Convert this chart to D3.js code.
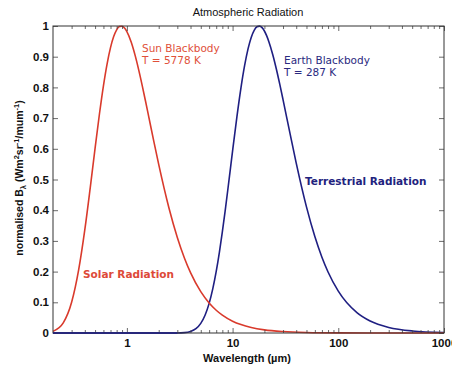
<!DOCTYPE html>
<html>
<head>
<meta charset="utf-8">
<script src="https://cdn.jsdelivr.net/npm/d3@7"></script>
<style>
  html, body { margin: 0; padding: 0; background: #fff; }
  svg { display: block; }
  .tick text { font-family: "Liberation Sans", Arial, Helvetica, sans-serif; font-weight: bold; font-size: 11.5px; fill: #111; }
</style>
</head>
<body>
<svg id="chart" width="452" height="366"></svg>
<script>
// Normalised blackbody spectra (peak = 1) against wavelength in micrometres
const sunWavelength = [0.2, 0.25, 0.3, 0.35, 0.4, 0.45, 0.5, 0.55, 0.6, 0.65, 0.7, 0.75, 0.8, 0.85, 0.9, 0.95,
  1.0, 1.1, 1.2, 1.3, 1.4, 1.5, 1.6, 1.8, 2, 2.5, 3, 3.5, 4, 5, 6, 7, 8, 10, 12, 15, 20, 30, 50, 100, 200, 1000];
const sunValue = [0.0053, 0.0328, 0.0999, 0.2062, 0.3365, 0.4729, 0.6013, 0.7133, 0.8053, 0.8769, 0.9296, 0.9655, 0.9876, 0.9981, 0.9994, 0.9935,
  0.9819, 0.9470, 0.9026, 0.8540, 0.8044, 0.7556, 0.7089, 0.6233, 0.5490, 0.4072, 0.3111, 0.2443, 0.1965, 0.1346, 0.0978, 0.0741, 0.0581, 0.0384, 0.0273, 0.0178, 0.0102, 0.0047, 0.0017, 0.0004, 0.0001, 0];

const earthWavelength = [0.2, 3, 3.5, 4, 4.5, 5, 5.5, 6, 6.5, 7, 7.5, 8, 8.5, 9, 9.5, 10, 11, 12, 13, 14, 15, 16, 17, 18, 19, 20,
  22, 24, 26, 28, 30, 35, 40, 50, 60, 70, 80, 100, 150, 200, 300, 500, 1000];
const earthValue = [0, 0.0002, 0.0012, 0.0050, 0.0141, 0.0314, 0.0586, 0.0965, 0.1444, 0.2006, 0.2630, 0.3293, 0.3973, 0.4650, 0.5308, 0.5934, 0.7059, 0.7988, 0.8716, 0.9255, 0.9628, 0.9859, 0.9974, 0.9996, 0.9946, 0.9837,
  0.9498, 0.9063, 0.8582, 0.8088, 0.7604, 0.6484, 0.5536, 0.4109, 0.3142, 0.2469, 0.1987, 0.1362, 0.0662, 0.0389, 0.0181, 0.0067, 0.0017];

const xMajorTicks = [1, 10, 100, 1000];
const xMinorTicks = [0.3, 0.4, 0.5, 0.6, 0.7, 0.8, 0.9, 2, 3, 4, 5, 6, 7, 8, 9, 20, 30, 40, 50, 60, 70, 80, 90, 200, 300, 400, 500, 600, 700, 800, 900];
const yTicks = [0, 0.1, 0.2, 0.3, 0.4, 0.5, 0.6, 0.7, 0.8, 0.9, 1];

const sunColor = "#d93a2c";
const earthColor = "#1f1f82";

const svg = d3.select("#chart");
const plotLeft = 53, plotRight = 444, plotTop = 26, plotBottom = 333;

const x = d3.scaleLog().domain([0.2, 1000]).range([plotLeft, plotRight]);
const y = d3.scaleLinear().domain([0, 1]).range([plotBottom, plotTop]);

// Curves
const line = d3.line().x(d => x(d[0])).y(d => y(d[1])).curve(d3.curveMonotoneX);

svg.append("path")
  .datum(earthWavelength.map((w, i) => [w, earthValue[i]]))
  .attr("d", line).attr("fill", "none")
  .attr("stroke", earthColor).attr("stroke-width", 1.6);

svg.append("path")
  .datum(sunWavelength.map((w, i) => [w, sunValue[i]]))
  .attr("d", line).attr("fill", "none")
  .attr("stroke", sunColor).attr("stroke-width", 1.6);

// Axes with inward ticks on all four sides
const fmtY = d => d === 0 ? "0" : d === 1 ? "1" : d3.format(".1f")(d);

svg.append("g").attr("transform", `translate(0,${plotBottom})`)
  .call(d3.axisBottom(x).tickValues(xMajorTicks).tickFormat(d3.format("d")).tickSizeInner(-5).tickSizeOuter(0).tickPadding(6));
svg.append("g").attr("transform", `translate(0,${plotBottom})`)
  .call(d3.axisBottom(x).tickValues(xMinorTicks).tickFormat("").tickSizeInner(-3).tickSizeOuter(0));
svg.append("g").attr("transform", `translate(0,${plotTop})`)
  .call(d3.axisTop(x).tickValues(xMajorTicks).tickFormat("").tickSizeInner(-5).tickSizeOuter(0));
svg.append("g").attr("transform", `translate(0,${plotTop})`)
  .call(d3.axisTop(x).tickValues(xMinorTicks).tickFormat("").tickSizeInner(-3).tickSizeOuter(0));

svg.append("g").attr("transform", `translate(${plotLeft},0)`)
  .call(d3.axisLeft(y).tickValues(yTicks).tickFormat(fmtY).tickSizeInner(-5).tickSizeOuter(0).tickPadding(4));
svg.append("g").attr("transform", `translate(${plotRight},0)`)
  .call(d3.axisRight(y).tickValues(yTicks).tickFormat("").tickSizeInner(-5).tickSizeOuter(0));

svg.selectAll(".domain").remove();
svg.selectAll(".tick line").attr("stroke", "#444").attr("stroke-width", 0.8);

// Frame
svg.append("rect")
  .attr("x", plotLeft).attr("y", plotTop).attr("width", plotRight - plotLeft).attr("height", plotBottom - plotTop)
  .attr("fill", "none").attr("stroke", "#333").attr("stroke-width", 1);

// Redraw the earth curve's zero run over the bottom frame line
svg.append("line")
  .attr("x1", x(0.2)).attr("x2", x(3)).attr("y1", y(0)).attr("y2", y(0))
  .attr("stroke", earthColor).attr("stroke-width", 1.4);

// Title and axis labels
svg.append("text").attr("x", 248).attr("y", 16).attr("text-anchor", "middle")
  .style("font-family", "'Liberation Sans', Arial, sans-serif").style("font-size", "11px")
  .style("fill", "#111").text("Atmospheric Radiation");

svg.append("text").attr("x", 247).attr("y", 362).attr("text-anchor", "middle")
  .style("font-family", "'Liberation Sans', Arial, sans-serif").style("font-size", "11px")
  .style("font-weight", "bold").style("fill", "#111").text("Wavelength (\u00b5m)");

const yl = svg.append("text").attr("transform", "translate(23,178) rotate(-90)")
  .attr("text-anchor", "middle")
  .style("font-family", "'Liberation Sans', Arial, sans-serif").style("font-size", "10.5px")
  .style("font-weight", "bold").style("fill", "#111");
yl.append("tspan").text("normalised B");
yl.append("tspan").attr("dy", 3).style("font-size", "7.5px").text("\u03bb");
yl.append("tspan").attr("dy", -3).text(" (Wm");
yl.append("tspan").attr("dy", -4).style("font-size", "7.5px").text("2");
yl.append("tspan").attr("dy", 4).text("sr");
yl.append("tspan").attr("dy", -4).style("font-size", "7.5px").text("-1");
yl.append("tspan").attr("dy", 4).text("/mum");
yl.append("tspan").attr("dy", -4).style("font-size", "7.5px").text("-1");
yl.append("tspan").attr("dy", 4).text(")");

// Annotations
const ann = (tx, ty, txt, color, bold) => svg.append("text").attr("x", tx).attr("y", ty)
  .style("font-family", "'DejaVu Sans', sans-serif").style("font-size", "10.5px")
  .style("font-weight", bold ? "bold" : "normal").style("fill", color).text(txt);

ann(142, 52, "Sun Blackbody", "#e0503a");
ann(142, 64, "T = 5778 K", "#e0503a");
ann(284, 64, "Earth Blackbody", "#2a2a80");
ann(284, 76, "T = 287 K", "#2a2a80");
ann(83, 278, "Solar Radiation", "#dd4a38", true);
ann(305, 185, "Terrestrial Radiation", "#22227e", true);
</script>
</body>
</html>
